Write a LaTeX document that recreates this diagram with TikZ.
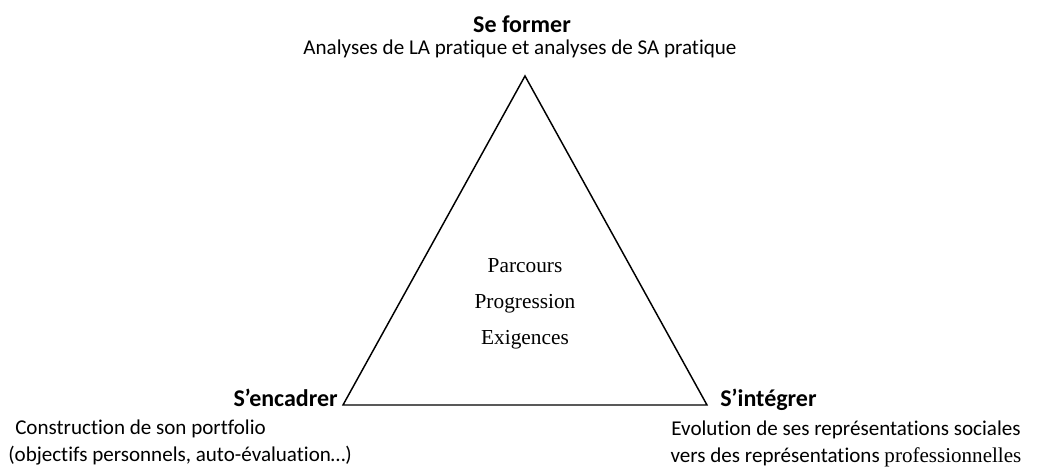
\documentclass[tikz,border=0pt]{standalone}
\usepackage{fontspec}
\setmainfont{Carlito}[Ligatures=NoCommon]
\newfontfamily\centrefont{Liberation Serif}
\usepackage{tikz}
\usetikzlibrary{positioning}

\begin{document}
\begin{tikzpicture}[x=0.75pt,y=0.75pt,
	pole/.style={font=\bfseries\fontsize{18}{22}\selectfont, inner sep=0pt},
	detail/.style={font=\fontsize{15.8}{20.25}\selectfont, inner sep=0pt},
	middle/.style={font=\centrefont\fontsize{16}{19}\selectfont, inner sep=0pt, anchor=base}]
\useasboundingbox (0,0) rectangle (1040,468);
\coordinate (top) at (525,392);
\coordinate (left) at (343,63);
\coordinate (right) at (707,63);
\draw [line width=1.1pt, line join=miter] (top) -- (left) -- (right) -- cycle;
\node [pole, anchor=base] (former) at (522,435) {Se former};
\node [detail, anchor=base] (formerd) at (520,413) {Analyses de LA pratique et analyses de SA pratique};
\node [pole, anchor=base east] (encadrer) at (338,61) {S’encadrer};
\node [detail, align=left, anchor=base west] (encadrerd) at (8,6) {\hspace*{5.25pt}Construction de son portfolio\\(objectifs personnels, auto-évaluation…)};
\node [pole, anchor=base west] (integrer) at (720,61) {S’intégrer};
\node [detail, align=center, anchor=base] (integrerd) at (846,5) {Evolution de ses représentations sociales\\vers des représentations {\centrefont professionnelles}};
\node [middle] (parcours) at (525,195) {Parcours};
\node [middle] (progression) at (525,159) {Progression};
\node [middle] (exigences) at (525,123) {Exigences};
\end{tikzpicture}
\end{document}
